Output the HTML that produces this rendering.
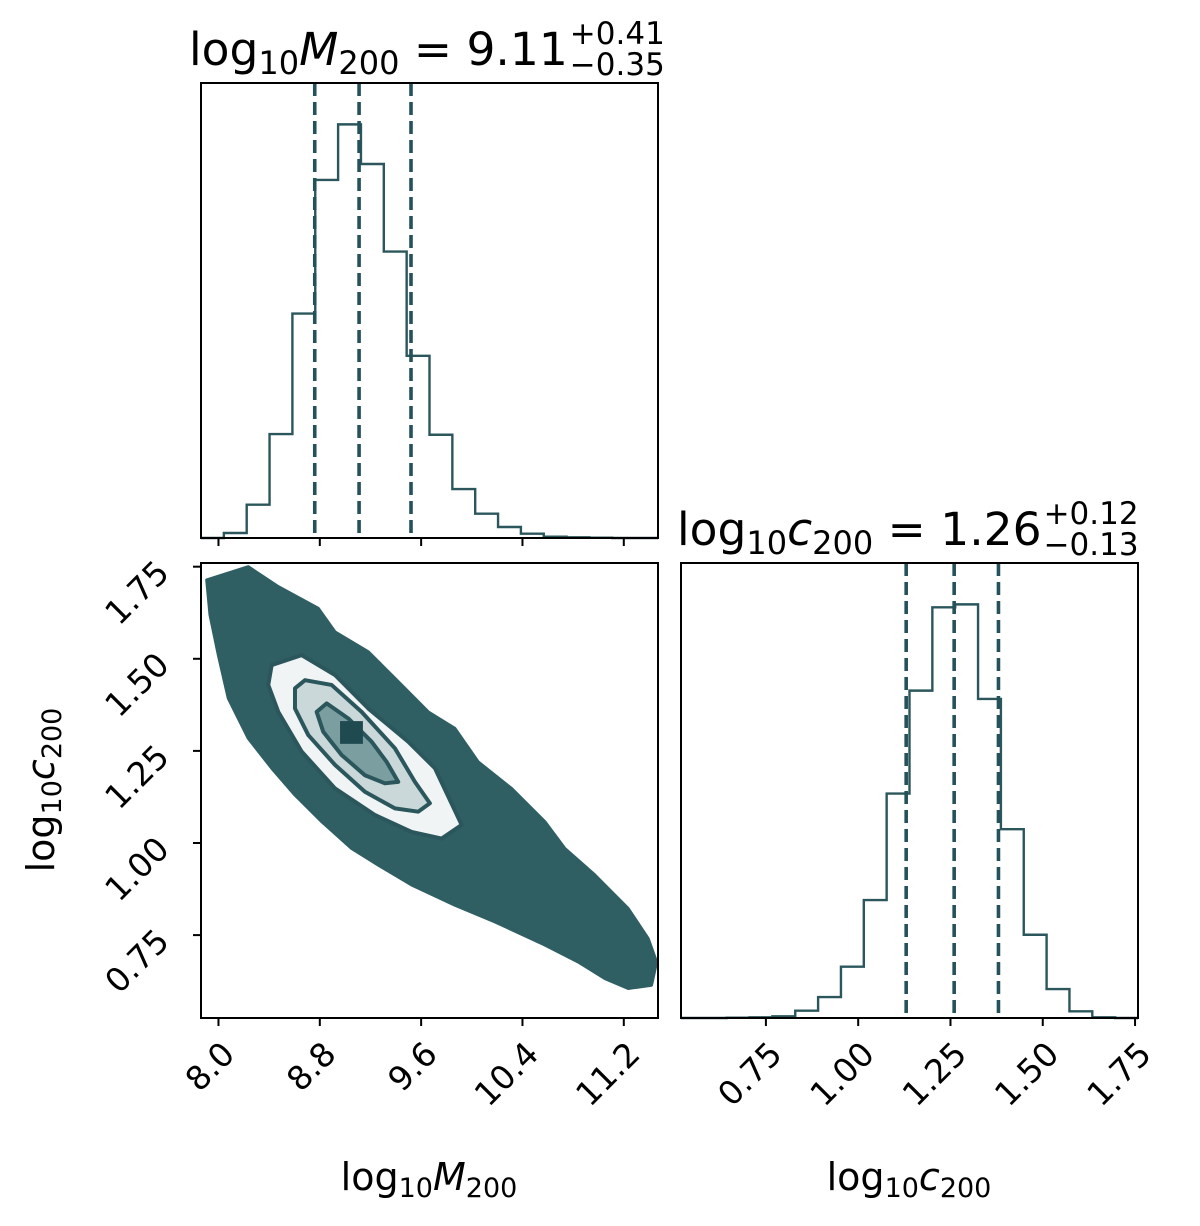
<!DOCTYPE html>
<html><head><meta charset="utf-8"><style>
html,body{margin:0;padding:0;background:#fff;}
svg text{font-family:"DejaVu Sans","Liberation Sans",sans-serif;fill:#000;}
</style></head><body>
<svg id="chart" width="1200" height="1221" viewBox="0 0 1200 1221" xmlns="http://www.w3.org/2000/svg"></svg>
<script>
// ---- data ----
const mBinsStart = 7.862, mBinsEnd = 11.47;
const mHist = [0,15,100,312,674,1075,1242,1123,860,547,310,147,73,33,13,4,2,1,0,0];
const cBinsStart = 0.52, cBinsEnd = 1.758;
const cHist = [0,0,1,2,5,22,63,154,354,674,983,1233,1242,958,567,250,87,20,2,0];
const mQuantiles = [8.76, 9.11, 9.52];
const cQuantiles = [1.13, 1.26, 1.38];
const mTicks = [8.0, 8.8, 9.6, 10.4, 11.2];
const mTickLabels = ["8.0","8.8","9.6","10.4","11.2"];
const cTicks = [0.75, 1.00, 1.25, 1.50, 1.75];
const cTickLabels = ["0.75","1.00","1.25","1.50","1.75"];
const cloudM = [7.907,8.235,8.472,8.788,8.920,9.183,9.393,9.656,9.867,10.051,10.314,10.577,10.735,10.972,11.235,11.392,11.459,11.419,11.235,11.051,10.840,10.577,10.182,9.867,9.525,9.261,9.051,8.815,8.604,8.420,8.235,8.077,7.999,7.933];
const cloudC = [1.714,1.750,1.696,1.637,1.573,1.519,1.447,1.356,1.311,1.220,1.148,1.058,0.985,0.913,0.822,0.741,0.677,0.614,0.605,0.632,0.677,0.723,0.786,0.831,0.886,0.940,0.985,1.058,1.130,1.203,1.284,1.393,1.510,1.619];
const outerM = [8.420,8.657,8.920,9.183,9.498,9.709,9.920,9.762,9.525,9.235,8.920,8.657,8.472,8.393];
const outerC = [1.483,1.510,1.456,1.365,1.275,1.203,1.049,1.012,1.030,1.076,1.148,1.248,1.356,1.429];
const midM = [8.604,8.683,8.893,9.130,9.393,9.551,9.669,9.577,9.393,9.156,8.920,8.709,8.604];
const midC = [1.420,1.442,1.429,1.356,1.257,1.166,1.108,1.085,1.094,1.139,1.212,1.293,1.365];
const innerM = [8.775,8.854,9.025,9.209,9.328,9.419,9.314,9.156,8.972,8.827];
const innerC = [1.356,1.379,1.338,1.275,1.220,1.166,1.162,1.184,1.239,1.302];
const peakM = [9.05], peakC = [1.30];

// ---- layout ----
const NS = "http://www.w3.org/2000/svg";
const svg = document.getElementById('chart');
const P1 = {x0:201,x1:658,y0:83,y1:538};
const P2 = {x0:201,x1:658,y0:563,y1:1018};
const P3 = {x0:681,x1:1138,y0:563,y1:1018};
const COL = "#2b575c";
function mk(tag, attrs, parent){const e=document.createElementNS(NS,tag);for(const k in attrs)e.setAttribute(k,attrs[k]);(parent||svg).appendChild(e);return e;}
const xM = v => P1.x0 + (v - mBinsStart)/(mBinsEnd - mBinsStart)*(P1.x1-P1.x0);
const xC = v => P3.x0 + (v - cBinsStart)/(cBinsEnd - cBinsStart)*(P3.x1-P3.x0);
const yC = v => P2.y1 - (v - 0.525)/(1.76-0.525)*(P2.y1-P2.y0);

function hist(P, data, name){
  const mx = Math.max(...data)*1.1, n=data.length, bw=(P.x1-P.x0)/n;
  const yv = v => P.y1 - v/mx*(P.y1-P.y0);
  let d = `M${P.x0},${P.y1}`;
  data.forEach((v,i)=>{d+=` L${P.x0+i*bw},${yv(v)} L${P.x0+(i+1)*bw},${yv(v)}`;});
  const p = mk('path',{d:d,fill:'none',stroke:COL,'stroke-width':2.4});
  
  
}
function qlines(P, qs, xf, name){
  qs.forEach(q=>{const l=mk('line',{x1:xf(q),x2:xf(q),y1:P.y0,y2:P.y1,stroke:'#25525a','stroke-width':3.6,'stroke-dasharray':'13,6'});
  
  });
}
function frame(P,name){const r=mk('rect',{x:P.x0,y:P.y0,width:P.x1-P.x0,height:P.y1-P.y0,fill:'none',stroke:'#000','stroke-width':2});
  
  }

// panel 1
hist(P1, mHist, 'mass-histogram');
qlines(P1, mQuantiles, xM, 'mass-quantile-line');
mTicks.forEach(t=>{mk('line',{x1:xM(t),x2:xM(t),y1:P1.y1,y2:P1.y1+8,stroke:'#000','stroke-width':2});});
frame(P1,'mass-panel-frame');

// panel 2
const clip = mk('clipPath',{id:'c2'}); mk('rect',{x:P2.x0,y:P2.y0,width:P2.x1-P2.x0,height:P2.y1-P2.y0},clip);
const g2 = mk('g',{'clip-path':'url(#c2)'});
(function(){
  const pts=(ms,cs)=>ms.map((m,i)=>xM(m)+','+yC(cs[i])).join(' ');
  let e=mk('polygon',{points:pts(cloudM,cloudC),fill:'#2f5f63',stroke:'#2f5f63','stroke-width':3,'stroke-linejoin':'round'},g2);
   
  e=mk('polygon',{points:pts(outerM,outerC),fill:'#f1f4f5',stroke:COL,'stroke-width':4,'stroke-linejoin':'round'},g2);
   
  e=mk('polygon',{points:pts(midM,midC),fill:'#cbd8da',stroke:COL,'stroke-width':4,'stroke-linejoin':'round'},g2);
   
  e=mk('polygon',{points:pts(innerM,innerC),fill:'#7b9ea1',stroke:COL,'stroke-width':4,'stroke-linejoin':'round'},g2);
   
  const bwx=(P1.x1-P1.x0)/20, bwy=(P2.y1-P2.y0)/20;
  e=mk('rect',{x:xM(peakM[0])-bwx/2,y:yC(peakC[0])-bwy/2,width:bwx,height:bwy,fill:'#1f4a4f'},g2);
   
})();
frame(P2,'joint-panel-frame');
mTicks.forEach((t,i)=>{mk('line',{x1:xM(t),x2:xM(t),y1:P2.y1,y2:P2.y1+8,stroke:'#000','stroke-width':2});
  const ax=xM(t)+18, ay=P2.y1+38;
  const tx=mk('text',{x:ax,y:ay,'font-size':33,'text-anchor':'end',transform:`rotate(-45 ${ax} ${ay})`});
  tx.textContent=mTickLabels[i];
   });
cTicks.forEach((t,i)=>{mk('line',{x1:P2.x0,x2:P2.x0-8,y1:yC(t),y2:yC(t),stroke:'#000','stroke-width':2});
  const ax=P2.x0-30, ay=yC(t)+8;
  const tx=mk('text',{x:ax,y:ay,'font-size':33,'text-anchor':'end',transform:`rotate(-45 ${ax} ${ay})`});
  tx.textContent=cTickLabels[i];
   });

// panel 3
hist(P3, cHist, 'conc-histogram');
qlines(P3, cQuantiles, xC, 'conc-quantile-line');
frame(P3,'conc-panel-frame');
cTicks.forEach((t,i)=>{mk('line',{x1:xC(t),x2:xC(t),y1:P3.y1,y2:P3.y1+8,stroke:'#000','stroke-width':2});
  const ax=xC(t)+18, ay=P3.y1+38;
  const tx=mk('text',{x:ax,y:ay,'font-size':33,'text-anchor':'end',transform:`rotate(-45 ${ax} ${ay})`});
  tx.textContent=cTickLabels[i];
   });
</script>
<svg id="lbl" style="position:absolute;left:0;top:0" width="1200" height="1221">
  <text id="t1" x="189" y="65" font-size="45.5">log<tspan font-size="32" dy="9">10</tspan><tspan font-style="italic" dy="-9">M</tspan><tspan font-size="32" dy="9">200</tspan><tspan dy="-9"> = 9.11</tspan></text>
  <text id="t1sup" x="567" y="44" font-size="31">+0.41</text>
  <text id="t1sub" x="567" y="75" font-size="31">−0.35</text>
  <text id="t2" x="677" y="545" font-size="45.5">log<tspan font-size="32" dy="9">10</tspan><tspan font-style="italic" dy="-9">c</tspan><tspan font-size="32" dy="9">200</tspan><tspan dy="-9"> = 1.26</tspan></text>
  <text id="t2sup" x="1040" y="524" font-size="31">+0.12</text>
  <text id="t2sub" x="1040" y="555" font-size="31">−0.13</text>
  <text x="429" y="1190" font-size="38" text-anchor="middle">log<tspan font-size="27" dy="7">10</tspan><tspan font-style="italic" dy="-7">M</tspan><tspan font-size="27" dy="7">200</tspan></text>
  <text x="909" y="1190" font-size="38" text-anchor="middle">log<tspan font-size="27" dy="7">10</tspan><tspan font-style="italic" dy="-7">c</tspan><tspan font-size="27" dy="7">200</tspan></text>
  <text x="0" y="0" transform="translate(54 790) rotate(-90)" font-size="38" text-anchor="middle">log<tspan font-size="27" dy="7">10</tspan><tspan font-style="italic" dy="-7">c</tspan><tspan font-size="27" dy="7">200</tspan></text>
</svg>
<script>
[['t1','t1sup','t1sub'],['t2','t2sup','t2sub']].forEach(([a,b,c])=>{
  const m=document.getElementById(a); const bb=m.getBBox(); const x=bb.x+bb.width+2;
  document.getElementById(b).setAttribute('x',x);
  document.getElementById(c).setAttribute('x',x);
});
</script>
</body></html>
